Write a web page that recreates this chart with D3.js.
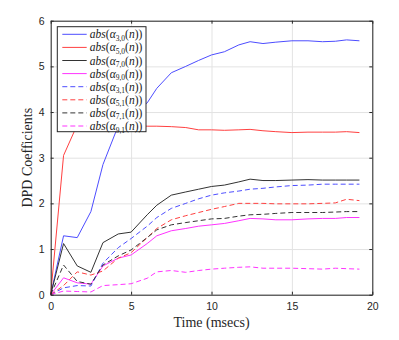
<!DOCTYPE html>
<html>
<head>
<meta charset="utf-8">
<script src="https://cdn.jsdelivr.net/npm/d3@7"></script>
<style>
  body { margin: 0; background: #fff; }
  svg { display: block; }
</style>
</head>
<body>
<div id="chart"></div>
<script>
// time axis (msecs) shared by all series
const time = [0, 0.8, 1.65, 2.5, 3.25, 4.2, 5.0, 6.0, 6.6, 7.5, 8.4, 9.2, 10.0, 10.8, 11.7, 12.4, 13.2, 14.0, 15.0, 16.0, 16.9, 17.7, 18.4, 19.2];

const a30 = [0, 1.29, 1.25, 1.82, 2.85, 3.7, 3.95, 4.2, 4.52, 4.86, 5.0, 5.13, 5.25, 5.32, 5.47, 5.54, 5.5, 5.53, 5.56, 5.56, 5.54, 5.55, 5.58, 5.56];
const a50 = [0, 3.05, 3.72, 3.74, 3.73, 3.72, 3.71, 3.69, 3.69, 3.68, 3.66, 3.61, 3.61, 3.6, 3.61, 3.62, 3.59, 3.57, 3.55, 3.56, 3.56, 3.56, 3.57, 3.55];
const a70 = [0, 1.12, 0.63, 0.49, 1.14, 1.33, 1.37, 1.75, 1.96, 2.18, 2.25, 2.31, 2.37, 2.40, 2.47, 2.53, 2.50, 2.50, 2.51, 2.52, 2.51, 2.51, 2.51, 2.51];
const a90 = [0, 0.37, 0.26, 0.23, 0.63, 0.8, 0.87, 1.12, 1.29, 1.40, 1.45, 1.5, 1.53, 1.56, 1.62, 1.67, 1.66, 1.64, 1.64, 1.66, 1.67, 1.67, 1.69, 1.69];
const a31 = [0, 0.15, 0.2, 0.19, 0.69, 1.03, 1.23, 1.5, 1.69, 1.89, 2.0, 2.1, 2.18, 2.23, 2.27, 2.31, 2.33, 2.36, 2.39, 2.40, 2.42, 2.42, 2.42, 2.42];
const a51 = [0, 0.2, 0.5, 0.43, 0.52, 0.8, 0.92, 1.25, 1.45, 1.64, 1.73, 1.8, 1.87, 1.93, 2.0, 2.0, 2.0, 1.99, 1.99, 1.99, 2.0, 2.01, 2.09, 2.06];
const a71 = [0, 0.65, 0.29, 0.23, 0.65, 0.85, 0.98, 1.25, 1.42, 1.53, 1.58, 1.62, 1.66, 1.67, 1.72, 1.75, 1.76, 1.78, 1.80, 1.80, 1.80, 1.81, 1.82, 1.82];
const a91 = [0, 0.08, 0.07, 0.06, 0.2, 0.22, 0.24, 0.36, 0.5, 0.53, 0.49, 0.53, 0.56, 0.58, 0.6, 0.61, 0.58, 0.58, 0.58, 0.57, 0.56, 0.58, 0.57, 0.56];

// legend subscripts, in legend order
const subscripts = ["3,0", "5,0", "7,0", "9,0", "3,1", "5,1", "7,1", "9,1"];
const xTicks = [0, 5, 10, 15, 20];
const yTicks = [0, 1, 2, 3, 4, 5, 6];

const seriesValues = [a30, a50, a70, a90, a31, a51, a71, a91];
const colors = ["#4d4dff", "#ff4040", "#333333", "#ff33ff", "#4d4dff", "#ff4040", "#333333", "#ff33ff"];
const dashes = [null, null, null, null, "5,3", "5,3", "5,3", "5,3"];

const W = 399, H = 340;
const margin = { top: 20.7, right: 26.7, bottom: 45.3, left: 50.7 };
const width = W - margin.left - margin.right;
const height = H - margin.top - margin.bottom;

const svg = d3.select('#chart')
  .append('svg')
  .attr('width', W)
  .attr('height', H);

const g = svg.append('g')
  .attr('transform', `translate(${margin.left},${margin.top})`);

const x = d3.scaleLinear().domain([0, 20]).range([0, width]);
const y = d3.scaleLinear().domain([0, 6]).range([height, 0]);

// grid
g.append('g')
  .attr('transform', `translate(0,${height})`)
  .call(d3.axisBottom(x).tickValues(xTicks).tickSize(-height).tickFormat(''))
  .call(a => a.select('.domain').remove())
  .selectAll('line').attr('stroke', '#e3e3e3');
g.append('g')
  .call(d3.axisLeft(y).tickValues(yTicks).tickSize(-width).tickFormat(''))
  .call(a => a.select('.domain').remove())
  .selectAll('line').attr('stroke', '#e3e3e3');

// lines
const line = d3.line()
  .x((d, i) => x(time[i]))
  .y(d => y(d));

seriesValues.forEach((vals, k) => {
  g.append('path')
    .datum(vals)
    .attr('fill', 'none')
    .attr('stroke', colors[k])
    .attr('stroke-width', 1)
    .attr('stroke-dasharray', dashes[k])
    .attr('d', line);
});

// axes, ticks inside like matlab
const axisColor = '#262626';
function styleAxis(a) {
  a.select('.domain').attr('stroke', axisColor);
  a.selectAll('.tick line').attr('stroke', axisColor);
  a.selectAll('text')
    .attr('fill', axisColor)
    .style('font-family', '"Liberation Sans", Arial, sans-serif')
    .style('font-size', '10.5px');
}

g.append('g')
  .attr('transform', `translate(0,${height})`)
  .call(d3.axisBottom(x).tickValues(xTicks).tickFormat(d3.format('d')).tickSizeInner(-3).tickSizeOuter(0).tickPadding(8))
  .call(styleAxis);
g.append('g')
  .call(d3.axisLeft(y).tickValues(yTicks).tickFormat(d3.format('d')).tickSizeInner(-3).tickSizeOuter(0).tickPadding(6))
  .call(styleAxis);
g.append('g')
  .call(d3.axisTop(x).tickValues(xTicks).tickSizeInner(-3).tickSizeOuter(0).tickFormat(''))
  .call(styleAxis);
g.append('g')
  .attr('transform', `translate(${width},0)`)
  .call(d3.axisRight(y).tickValues(yTicks).tickSizeInner(-3).tickSizeOuter(0).tickFormat(''))
  .call(styleAxis);

// axis labels
svg.append('text')
  .attr('x', margin.left + width / 2)
  .attr('y', 327)
  .attr('text-anchor', 'middle')
  .style('font-family', '"Liberation Serif", "Times New Roman", serif')
  .style('font-size', '14px')
  .attr('fill', axisColor)
  .text('Time (msecs)');

svg.append('text')
  .attr('transform', `translate(32,${margin.top + height / 2}) rotate(-90)`)
  .attr('text-anchor', 'middle')
  .style('font-family', '"Liberation Serif", "Times New Roman", serif')
  .style('font-size', '14px')
  .attr('fill', axisColor)
  .text('DPD Coefficients');

// legend
const lg = svg.append('g');
const lx = 57.3, ly = 26.7, rowH = 13.1;
lg.append('rect')
  .attr('x', lx).attr('y', ly)
  .attr('width', 88.7).attr('height', 105)
  .attr('fill', '#fff')
  .attr('stroke', axisColor)
  .attr('stroke-width', 1);

subscripts.forEach((sub, i) => {
  const cy = ly + 7.6 + i * rowH;
  lg.append('line')
    .attr('x1', lx + 5).attr('x2', lx + 29.4)
    .attr('y1', cy).attr('y2', cy)
    .attr('stroke', colors[i])
    .attr('stroke-width', 1)
    .attr('stroke-dasharray', dashes[i]);
  const t = lg.append('text')
    .attr('x', lx + 32.5)
    .attr('y', cy + 4)
    .attr('fill', '#1a1a1a')
    .style('font-family', '"Liberation Serif", "Times New Roman", serif')
    .style('font-size', '11.5px');
  t.append('tspan').style('font-style', 'italic').text('abs');
  t.append('tspan').text('(');
  t.append('tspan').style('font-style', 'italic').text('α');
  t.append('tspan').attr('dy', 2.5).style('font-size', '7.5px').text(sub);
  t.append('tspan').attr('dy', -2.5).text('(');
  t.append('tspan').style('font-style', 'italic').text('n');
  t.append('tspan').text('))');
});
</script>
</body>
</html>
